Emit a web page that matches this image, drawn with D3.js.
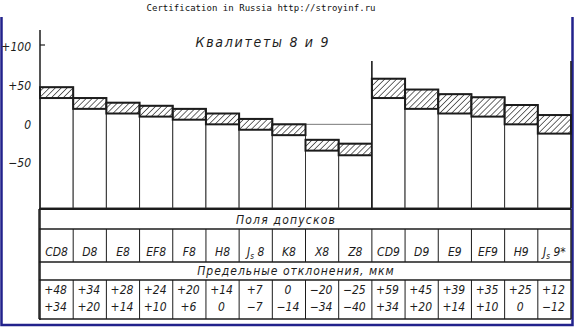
<!DOCTYPE html>
<html>
<head>
<meta charset="utf-8">
<script src="https://cdn.jsdelivr.net/npm/d3@7"></script>
<style>
  body { margin: 0; background: #fff; }
  svg { display: block; }
</style>
</head>
<body>
<svg width="575" height="330"></svg>
<script>
// tolerance fields and their limit deviations, um
const fields   = ["CD8", "D8", "E8", "EF8", "F8", "H8", "Js8", "K8", "X8", "Z8",
                  "CD9", "D9", "E9", "EF9", "H9", "Js9*"];
const upperDev = [48, 34, 28, 24, 20, 14, 7, 0, -20, -25, 59, 45, 39, 35, 25, 12];
const lowerDev = [34, 20, 14, 10, 6, 0, -7, -14, -34, -40, 34, 20, 14, 10, 0, -12];
const yTicks   = [100, 50, 0, -50];

const siteText = "Certification in Russia http://stroyinf.ru";
const title = "Квалитеты 8 и 9";
const rowFields = "Поля допусков";
const rowDevs = "Предельные отклонения, мкм";

const svg = d3.select("svg");
const ink = "#1c1c1c";
const font = "'DejaVu Sans Condensed','Liberation Sans Narrow','DejaVu Sans',sans-serif";

const x = d3.scaleBand().domain(fields).range([40, 571]);
const y = d3.scaleLinear().domain([-50, 100]).range([163, 47]);
const barBottom = 208;

const fmt = v => v > 0 ? "+" + v : v < 0 ? "\u2212" + Math.abs(v) : "0";

// hatch
const defs = svg.append("defs");
defs.append("pattern")
  .attr("id", "hatch")
  .attr("patternUnits", "userSpaceOnUse")
  .attr("width", 4.2).attr("height", 4.2)
  .attr("patternTransform", "rotate(45)")
  .append("line")
  .attr("x1", 0).attr("y1", 0).attr("x2", 0).attr("y2", 4.2)
  .attr("stroke", ink).attr("stroke-width", 1.3);

// blue frame
svg.append("path")
  .attr("d", "M1.5,17 V325 H572.5 V17")
  .attr("fill", "none")
  .attr("stroke", "#22228c")
  .attr("stroke-width", 2.5);

svg.append("text")
  .attr("x", 261).attr("y", 11)
  .attr("text-anchor", "middle")
  .attr("font-family", "'DejaVu Sans Mono',monospace")
  .attr("font-size", 9)
  .attr("textLength", 229)
  .attr("fill", "#111")
  .text(siteText);

svg.append("text")
  .attr("x", 262).attr("y", 47)
  .attr("text-anchor", "middle")
  .attr("font-family", font)
  .attr("font-style", "italic")
  .attr("font-size", 14)
  .attr("textLength", 133)
  .attr("lengthAdjust", "spacing")
  .attr("fill", ink)
  .text(title);

// zero line
svg.append("line")
  .attr("x1", 40).attr("x2", 571)
  .attr("y1", y(0)).attr("y2", y(0))
  .attr("stroke", "#555").attr("stroke-width", 0.8);

// columns
const cols = svg.append("g").selectAll("g").data(fields).join("g");

cols.append("rect")
  .attr("x", d => x(d))
  .attr("width", x.bandwidth())
  .attr("y", (d, i) => y(upperDev[i]))
  .attr("height", (d, i) => barBottom - y(upperDev[i]))
  .attr("fill", "#fff")
  .attr("stroke", "#333")
  .attr("stroke-width", 1);

cols.append("rect")
  .attr("x", d => x(d))
  .attr("width", x.bandwidth())
  .attr("y", (d, i) => y(upperDev[i]))
  .attr("height", (d, i) => y(lowerDev[i]) - y(upperDev[i]))
  .attr("fill", "url(#hatch)")
  .attr("stroke", ink)
  .attr("stroke-width", 2);

// axis
const axis = svg.append("g")
  .attr("transform", "translate(40,0)")
  .call(d3.axisLeft(y).tickValues(yTicks).tickSize(0).tickPadding(9)
    .tickFormat(fmt));
axis.select(".domain").remove();
axis.selectAll("text")
  .attr("font-family", font)
  .attr("font-style", "italic")
  .attr("font-size", 12)
  .attr("fill", ink);

svg.append("line")
  .attr("x1", 40).attr("x2", 40).attr("y1", 30).attr("y2", 320)
  .attr("stroke", ink).attr("stroke-width", 1.5);
svg.append("line")
  .attr("x1", 40).attr("x2", 45).attr("y1", y(100) - 2).attr("y2", y(100) - 2)
  .attr("stroke", ink).attr("stroke-width", 1.2);

// 9 group divider and right edge
[x("CD9"), 571].forEach(px => {
  svg.append("line")
    .attr("x1", px).attr("x2", px).attr("y1", 61).attr("y2", barBottom)
    .attr("stroke", ink).attr("stroke-width", 1.6);
});

// table
const table = svg.append("g");
const rows = [209, 229, 262, 280, 319];
rows.forEach((ry, i) => {
  table.append("line")
    .attr("x1", 39).attr("x2", 571).attr("y1", ry).attr("y2", ry)
    .attr("stroke", ink).attr("stroke-width", i === 0 ? 2 : 1.4);
});
[39, 571].forEach(px => {
  table.append("line")
    .attr("x1", px).attr("x2", px).attr("y1", 209).attr("y2", 319)
    .attr("stroke", ink).attr("stroke-width", 1.4);
});
fields.slice(1).forEach(f => {
  [[229, 262], [280, 319]].forEach(([a, b]) => {
    table.append("line")
      .attr("x1", x(f)).attr("x2", x(f)).attr("y1", a).attr("y2", b)
      .attr("stroke", ink).attr("stroke-width", 1);
  });
});

const tText = (tx, ty, size) => table.append("text")
  .attr("x", tx).attr("y", ty)
  .attr("text-anchor", "middle")
  .attr("font-family", font)
  .attr("font-style", "italic")
  .attr("font-size", size)
  .attr("fill", ink);

tText(286, 224, 12).attr("letter-spacing", 1.2).text(rowFields);
tText(296, 275, 12).attr("letter-spacing", 1).text(rowDevs);

fields.forEach((f, i) => {
  const cx = x(f) + x.bandwidth() / 2;
  const t = tText(cx, 256, 12);
  if (f.startsWith("Js")) {
    t.append("tspan").text("J");
    t.append("tspan").attr("font-size", 8).attr("dy", 3).text("s");
    t.append("tspan").attr("dy", -3).text(" " + f.slice(2));
  } else {
    t.text(f);
  }
  tText(cx - 1, 294, 12).text(fmt(upperDev[i]));
  tText(cx - 1, 311, 12).text(fmt(lowerDev[i]));
});
</script>
</body>
</html>
